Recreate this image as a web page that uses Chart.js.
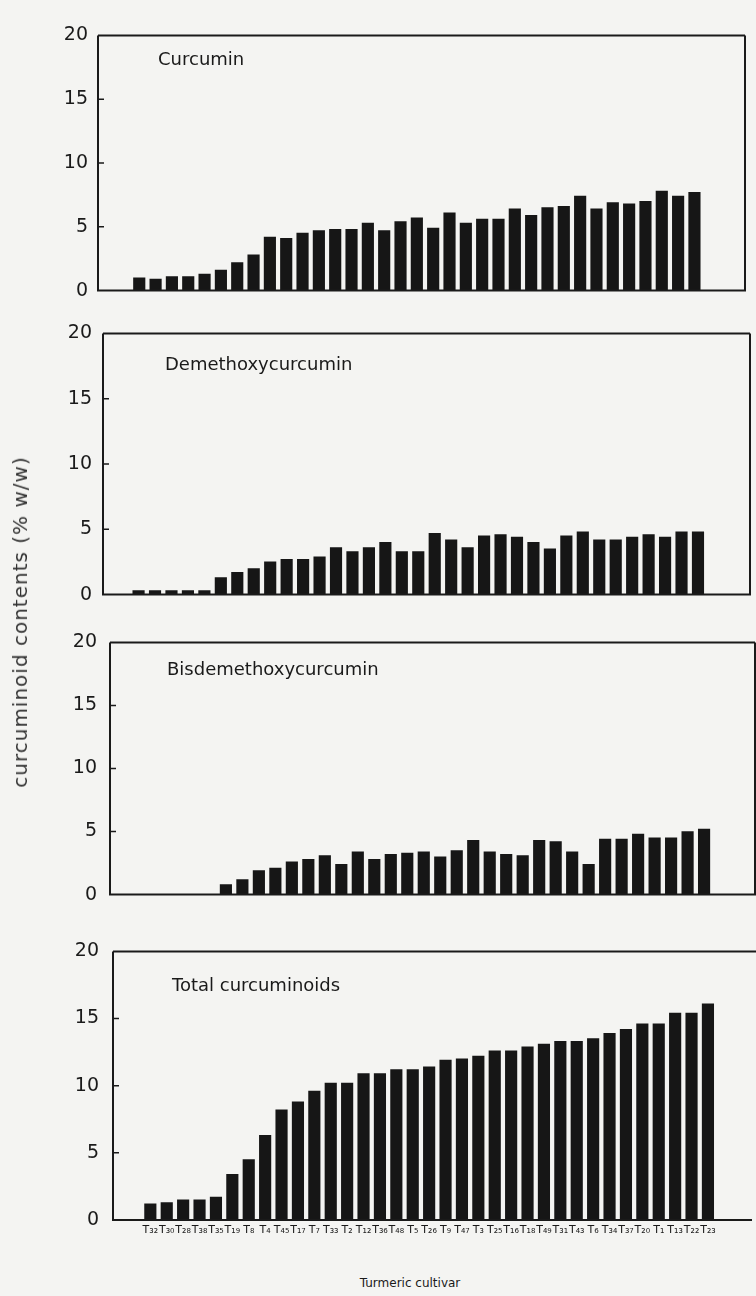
<!DOCTYPE html>
<html>
<head>
<meta charset="utf-8">
<script src="https://cdn.jsdelivr.net/npm/chart.js@4.4.0/dist/chart.umd.min.js"></script>
<style>
  html, body { margin: 0; padding: 0; background: #f4f4f2; }
  #page { position: relative; width: 756px; height: 1296px; overflow: hidden; font-family: "DejaVu Sans", sans-serif; color: #1a1a1a; }
  #page canvas { position: absolute; left: 0; }
  .ytitle { position: absolute; left: 20px; top: 622px; transform: translate(-50%, -50%) rotate(-90deg); white-space: nowrap; font-size: 20px; letter-spacing: 1px; color: #333; }
  .xtitle { position: absolute; left: 410px; top: 1283px; transform: translate(-50%, -50%); white-space: nowrap; font-size: 12px; color: #1a1a1a; }
</style>
</head>
<body>
<div id="page">
  <canvas id="c1"></canvas>
  <canvas id="c2"></canvas>
  <canvas id="c3"></canvas>
  <canvas id="c4"></canvas>
  <div class="ytitle">curcuminoid contents (% w/w)</div>
  <div class="xtitle">Turmeric cultivar</div>
</div>
<script>
// cultivars, sorted by total curcuminoids
const cultivars = ['T₃₂', 'T₃₀', 'T₂₈', 'T₃₈', 'T₃₅', 'T₁₉', 'T₈', 'T₄', 'T₄₅', 'T₁₇', 'T₇', 'T₃₃', 'T₂', 'T₁₂', 'T₃₆', 'T₄₈', 'T₅', 'T₂₆',
  'T₉', 'T₄₇', 'T₃', 'T₂₅', 'T₁₆', 'T₁₈', 'T₄₉', 'T₃₁', 'T₄₃', 'T₆', 'T₃₄', 'T₃₇', 'T₂₀', 'T₁', 'T₁₃', 'T₂₂', 'T₂₃'];

const curcumin = [1.0, 0.9, 1.1, 1.1, 1.3, 1.6, 2.2, 2.8, 4.2, 4.1, 4.5, 4.7, 4.8, 4.8, 5.3, 4.7, 5.4, 5.7,
  4.9, 6.1, 5.3, 5.6, 5.6, 6.4, 5.9, 6.5, 6.6, 7.4, 6.4, 6.9, 6.8, 7.0, 7.8, 7.4, 7.7];
const demethoxy = [0.3, 0.3, 0.3, 0.3, 0.3, 1.3, 1.7, 2.0, 2.5, 2.7, 2.7, 2.9, 3.6, 3.3, 3.6, 4.0, 3.3, 3.3,
  4.7, 4.2, 3.6, 4.5, 4.6, 4.4, 4.0, 3.5, 4.5, 4.8, 4.2, 4.2, 4.4, 4.6, 4.4, 4.8, 4.8];
const bisdemethoxy = [0, 0, 0, 0, 0, 0.8, 1.2, 1.9, 2.1, 2.6, 2.8, 3.1, 2.4, 3.4, 2.8, 3.2, 3.3, 3.4,
  3.0, 3.5, 4.3, 3.4, 3.2, 3.1, 4.3, 4.2, 3.4, 2.4, 4.4, 4.4, 4.8, 4.5, 4.5, 5.0, 5.2];
const total = [1.2, 1.3, 1.5, 1.5, 1.7, 3.4, 4.5, 6.3, 8.2, 8.8, 9.6, 10.2, 10.2, 10.9, 10.9, 11.2, 11.2, 11.4,
  11.9, 12.0, 12.2, 12.6, 12.6, 12.9, 13.1, 13.3, 13.3, 13.5, 13.9, 14.2, 14.6, 14.6, 15.4, 15.4, 16.1];

const yTicks = [0, 5, 10, 15, 20];

// box around the plot, inward tick marks, panel name
const framePlugin = {
  id: 'frame',
  afterDraw(chart, args, opts) {
    const { ctx, chartArea: a } = chart;
    const W = chart.width;
    ctx.save();
    ctx.strokeStyle = '#1a1a1a';
    ctx.lineWidth = 2;
    ctx.beginPath();
    ctx.moveTo(a.left, a.top);
    ctx.lineTo(opts.openRight ? W : a.right, a.top);
    ctx.moveTo(a.left, a.top);
    ctx.lineTo(a.left, a.bottom);
    ctx.lineTo(a.right, a.bottom);
    if (!opts.openRight) ctx.lineTo(a.right, a.top);
    ctx.stroke();

    ctx.lineWidth = 1.5;
    ctx.beginPath();
    yTicks.slice(1, -1).forEach(v => {
      const y = chart.scales.y.getPixelForValue(v);
      ctx.moveTo(a.left, y);
      ctx.lineTo(a.left + 6, y);
    });
    ctx.stroke();

    ctx.fillStyle = '#1a1a1a';
    ctx.font = '18px "DejaVu Sans", sans-serif';
    ctx.textBaseline = 'middle';
    ctx.fillText(opts.title, a.left + opts.tx, a.top + opts.ty);
    ctx.restore();
  }
};

const panels = [
  { id: 'c1', data: curcumin, title: 'Curcumin', top: 28, bottom: 298, left: 98, right: 745, xMin: -1.96, xMax: 36.53, tx: 60, ty: 25, lpad: 10 },
  { id: 'c2', data: demethoxy, title: 'Demethoxycurcumin', top: 325, bottom: 603, left: 103, right: 750, xMin: -1.6, xMax: 36.6, tx: 62, ty: 32, lpad: 11 },
  { id: 'c3', data: bisdemethoxy, title: 'Bisdemethoxycurcumin', top: 632, bottom: 905, left: 110, right: 755, xMin: -1.47, xMax: 36.53, tx: 57, ty: 28, lpad: 13 },
  { id: 'c4', data: total, title: 'Total curcuminoids', top: 940, bottom: 1220, left: 113, right: 752, xMin: -1.72, xMax: 36.13, tx: 59, ty: 35, lpad: 14, labels: true }
];

panels.forEach(p => {
  const pad = 14;
  const xAxisH = p.labels ? 26 : 0;
  const padBottom = p.labels ? 2 : pad;
  const canvas = document.getElementById(p.id);
  const H = (p.bottom - p.top) + pad + xAxisH + padBottom;
  canvas.width = 756;
  canvas.height = H;
  canvas.style.top = (p.top - pad) + 'px';

  new Chart(canvas, {
    type: 'bar',
    data: {
      datasets: [{
        data: p.data.map((v, i) => ({ x: i, y: v })),
        backgroundColor: '#161616',
        borderWidth: 0,
        barThickness: 11.5
      }]
    },
    options: {
      responsive: false,
      animation: false,
      devicePixelRatio: 1,
      layout: { padding: { top: pad, bottom: padBottom, left: 0, right: 756 - p.right } },
      scales: {
        x: {
          type: 'linear',
          min: p.xMin,
          max: p.xMax,
          display: !!p.labels,
          grid: { display: false, drawTicks: false },
          border: { display: false },
          afterBuildTicks: s => { s.ticks = cultivars.map((c, i) => ({ value: i })); },
          afterFit: s => { s.height = xAxisH; },
          ticks: {
            autoSkip: false,
            maxRotation: 0,
            padding: 4,
            color: '#1a1a1a',
            font: { family: 'DejaVu Sans', size: 11 },
            callback: v => cultivars[v]
          }
        },
        y: {
          min: 0,
          max: 20,
          afterBuildTicks: s => { s.ticks = yTicks.map(v => ({ value: v })); },
          afterFit: s => { s.width = p.left; },
          grid: { display: false, drawTicks: false },
          border: { display: false },
          ticks: {
            padding: p.lpad,
            color: '#1a1a1a',
            font: { family: 'DejaVu Sans', size: 19 }
          }
        }
      },
      plugins: {
        legend: { display: false },
        tooltip: { enabled: false },
        frame: { title: p.title, tx: p.tx, ty: p.ty, openRight: !!p.labels }
      }
    },
    plugins: [framePlugin]
  });
});
</script>
</body>
</html>
